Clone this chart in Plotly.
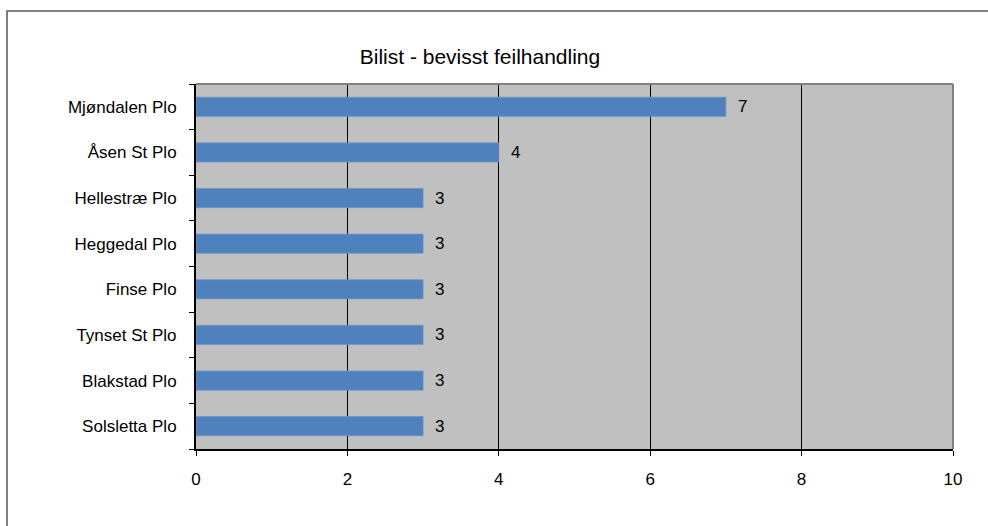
import plotly.graph_objects as go

# Data
stations = ["Mjøndalen Plo", "Åsen St Plo", "Hellestræ Plo", "Heggedal Plo",
            "Finse Plo", "Tynset St Plo", "Blakstad Plo", "Solsletta Plo"]
counts = [7, 4, 3, 3, 3, 3, 3, 3]
x_ticks = [0, 2, 4, 6, 8, 10]
title_text = "Bilist - bevisst feilhandling"

W, H = 988, 526
L, R, T, B = 196, 35, 84, 77
pw, ph = W - L - R, H - T - B

font = "Liberation Sans, Arial, sans-serif"
fs = 17

fig = go.Figure(go.Bar(
    x=counts,
    y=stations,
    orientation="h",
    marker=dict(color="#4F81BD", line=dict(color="#6F95C8", width=0.8)),
    width=0.42,
    hoverinfo="skip",
))

# value labels at the bar ends
for s, c in zip(stations, counts):
    fig.add_annotation(x=c, y=s, text=str(c), showarrow=False,
                       xanchor="left", xshift=10,
                       font=dict(family=font, size=fs, color="black"))

# outer chart frame
fig.add_shape(type="rect", xref="paper", yref="paper",
              x0=(7 - L) / pw, x1=(W + 20 - L) / pw,
              y0=-(B + 20) / ph, y1=(H - B - 11) / ph,
              line=dict(color="#555555", width=1.5), fillcolor="rgba(0,0,0,0)")

# top and right plot-area border in grey
fig.add_shape(type="line", xref="x domain", yref="y domain",
              x0=0, x1=1, y0=1, y1=1, line=dict(color="#808080", width=2), layer="above")
fig.add_shape(type="line", xref="x domain", yref="y domain",
              x0=1, x1=1, y0=0, y1=1, line=dict(color="#808080", width=2), layer="above")

fig.update_layout(
    width=W, height=H,
    margin=dict(l=L, r=R, t=T, b=B),
    paper_bgcolor="white",
    plot_bgcolor="#C0C0C0",
    showlegend=False,
    title=dict(text=title_text, x=480 / W, xanchor="center",
               y=1 - 57 / H, yanchor="middle",
               font=dict(family=font, size=21, color="black")),
    font=dict(family=font, size=fs, color="black"),
)

fig.update_xaxes(
    range=[0, 10], tickvals=x_ticks, ticktext=[str(v) for v in x_ticks],
    showgrid=True, gridcolor="black", gridwidth=1,
    showline=True, linecolor="black", linewidth=2,
    ticks="outside", ticklen=5, tickcolor="black", tickwidth=1,
    ticklabelstandoff=9, zeroline=False,
    tickfont=dict(family=font, size=fs, color="black"),
)
fig.update_yaxes(
    categoryorder="array", categoryarray=stations[::-1],
    range=[-0.5, len(stations) - 0.5],
    showgrid=False,
    showline=True, linecolor="black", linewidth=2,
    ticks="outside", tickson="boundaries", ticklen=5, tickcolor="black", tickwidth=1,
    ticklabelstandoff=14,
    tickfont=dict(family=font, size=fs, color="black"),
)

fig.write_html("out.html")
